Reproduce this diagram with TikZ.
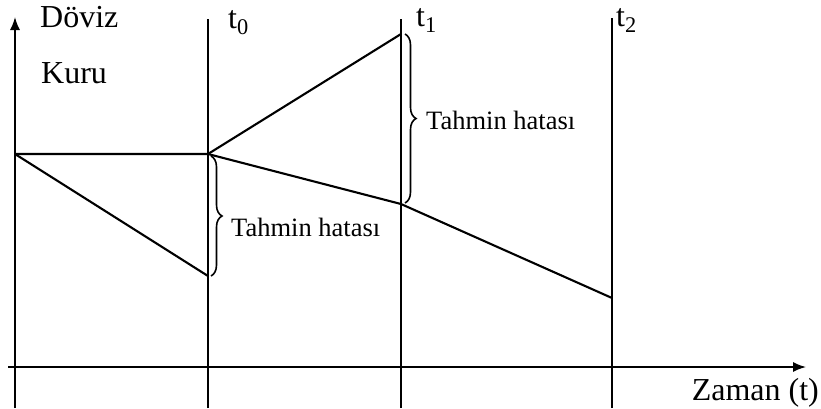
\documentclass[tikz,border=0pt]{standalone}
\usepackage{fontspec}
\setmainfont{Liberation Serif}
\usetikzlibrary{positioning,arrows.meta,decorations.pathreplacing}

\begin{document}
\begin{tikzpicture}[x=1pt, y=-1pt,
    axis/.style={line width=1.6pt, -{Latex[length=13pt, width=10pt]}},
    timeline/.style={line width=1.7pt},
    path/.style={line width=2.1pt},
    errbrace/.style={decorate, decoration={brace, amplitude=11pt}, line width=1.6pt},
    lbl/.style={font=\fontsize{32}{34}\selectfont, inner sep=0pt},
    errlbl/.style={font=\fontsize{26.5}{28}\selectfont, inner sep=0pt}
]
\useasboundingbox (0,0) rectangle (821,408);

% axes
\coordinate (origin) at (15,408);
\coordinate (ytop) at (15,17);
\coordinate (xleft) at (8,367);
\coordinate (xright) at (806,367);
\draw[axis] (origin) -- (ytop);
\draw[axis] (xleft) -- (xright);

% time lines
\coordinate (t0bot) at (208,408);
\coordinate (t0top) at (208,19);
\coordinate (t1bot) at (401,408);
\coordinate (t1top) at (401,19);
\coordinate (t2bot) at (612,408);
\coordinate (t2top) at (612,18);
\draw[timeline] (t0bot) -- (t0top);
\draw[timeline] (t1bot) -- (t1top);
\draw[timeline] (t2bot) -- (t2top);

\node[lbl, anchor=base west] (doviz) at (40,27) {Döviz};
\node[lbl, anchor=base west] (kuru) at (41,83) {Kuru};
\node[lbl, anchor=base west] (t0) at (228,28) {t\textsubscript{0}};
\node[lbl, anchor=base west] (t1) at (416,26) {t\textsubscript{1}};
\node[lbl, anchor=base west] (t2) at (616,26) {t\textsubscript{2}};
\node[lbl, anchor=base east] (zaman) at (819,400) {Zaman (t)};

% rate paths
\coordinate (start) at (15,154);
\coordinate (p0) at (208,154);
\coordinate (low0) at (208,276);
\coordinate (high1) at (401,34);
\coordinate (p1) at (401,204);
\coordinate (p2) at (612,298);
\draw[path] (start) -- (p0) -- (high1);
\draw[path] (start) -- (low0);
\draw[path] (p0) -- (p1) -- (p2);

% errors
\draw[errbrace] (211,156) -- (211,276);
\node[errlbl, anchor=base west] (err0) at (231,236) {Tahmin hatası};
\draw[errbrace] (405,34) -- (405,203);
\node[errlbl, anchor=base west] (err1) at (426,129) {Tahmin hatası};

\end{tikzpicture}
\end{document}
